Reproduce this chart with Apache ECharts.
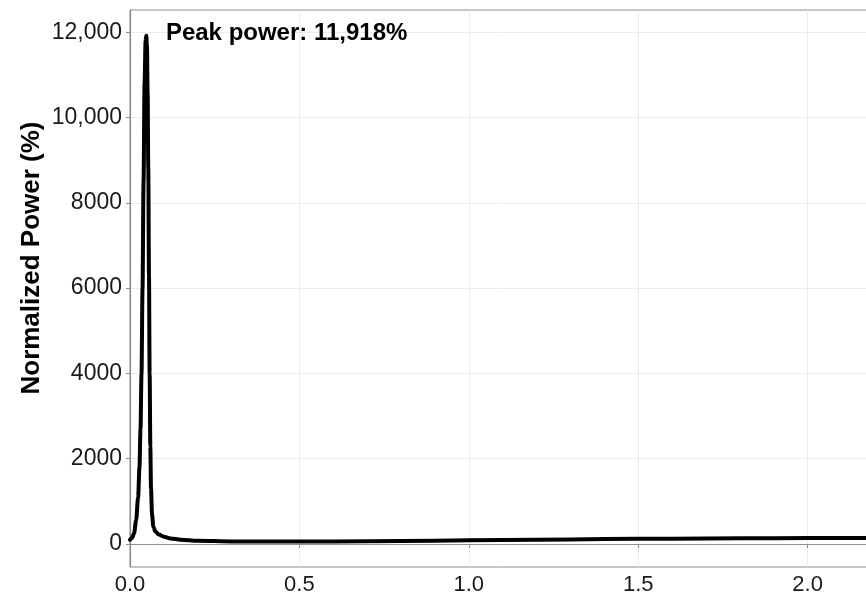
<!DOCTYPE html>
<html>
  <head>
    <meta charset="utf-8">
    <title>Normalized Power</title>
    <script src="https://cdn.jsdelivr.net/npm/echarts@6/dist/echarts.min.js"></script>
    <style>
      html, body { margin: 0; padding: 0; background: #fff; }
      #chart { width: 866px; height: 594px; }
    </style>
  </head>
  <body>
    <div id="chart"></div>
    <script>
      // frequency (x) and normalized power in % (y)
      const freqs = [0, 0.006, 0.012, 0.018, 0.024, 0.028, 0.031, 0.034, 0.037, 0.040,
        0.043, 0.046, 0.048, 0.050, 0.052, 0.054, 0.056, 0.058, 0.060, 0.062,
        0.065, 0.069, 0.075, 0.085, 0.10, 0.12, 0.15, 0.20, 0.30, 0.40,
        0.50, 0.60, 0.80, 1.00, 1.20, 1.40, 1.60, 1.80, 2.00, 2.20, 2.40, 2.60];
      const power = [100, 140, 250, 550, 1100, 1800, 2700, 4000, 6000, 8500,
        10800, 11800, 11918, 11700, 10600, 8800, 6300, 4000, 2300, 1300,
        700, 400, 290, 220, 170, 130, 100, 75, 60, 55,
        55, 58, 70, 85, 100, 115, 125, 132, 138, 140, 142, 143];
      const yTicks = [0, 2000, 4000, 6000, 8000, 10000, 12000];
      const peakValue = 11918;
      const peakText = 'Peak power: ' + peakValue.toLocaleString('en-US') + '%';

      const font = '"Liberation Sans", Arial, sans-serif';
      const chart = echarts.init(document.getElementById('chart'));

      // the plot runs past the right edge of the picture, as in the original
      chart.setOption({
        animation: false,
        grid: {
          left: 130, top: 10, width: 847, bottom: 27,
          outerBoundsMode: 'none', containLabel: false,
          show: true, borderColor: '#8c8c8c', borderWidth: 1
        },
        xAxis: {
          type: 'value', min: 0, max: 2.5, interval: 0.5,
          axisLine: { lineStyle: { color: '#8c8c8c', width: 1.2 } },
          axisTick: { show: true, length: 4, lineStyle: { color: '#8c8c8c' } },
          axisLabel: {
            margin: 7, fontSize: 22, color: '#1a1a1a', fontFamily: font,
            formatter: v => v.toFixed(1)
          },
          splitLine: { show: true, lineStyle: { color: '#ececec', width: 1 } }
        },
        yAxis: {
          type: 'value', min: -540, max: 12520,
          axisLine: { show: true, lineStyle: { color: '#8c8c8c', width: 1.2 } },
          axisTick: { show: true, length: 4, customValues: yTicks, lineStyle: { color: '#8c8c8c' } },
          axisLabel: {
            margin: 8, fontSize: 23, color: '#1a1a1a', fontFamily: font,
            customValues: yTicks,
            formatter: v => v >= 10000 ? v.toLocaleString('en-US') : String(v)
          },
          splitLine: { show: true, lineStyle: { color: '#ececec', width: 1 } }
        },
        series: [{
          type: 'line',
          data: freqs.map((f, i) => [f, power[i]]),
          showSymbol: false,
          smooth: 0.3,
          smoothMonotone: 'x',
          lineStyle: { color: '#000', width: 4, cap: 'round', join: 'round' }
        }]
      });

      const p = chart.convertToPixel({ gridIndex: 0 }, [0.106, 12000]);
      chart.setOption({
        graphic: [
          {
            type: 'text', x: p[0], y: p[1] + 1,
            style: {
              text: peakText, fontSize: 24, fontWeight: 'bold', fontFamily: font,
              fill: '#000', textVerticalAlign: 'middle'
            }
          },
          {
            type: 'text', x: 32, y: 258, rotation: Math.PI / 2,
            style: {
              text: 'Normalized Power (%)', fontSize: 26, fontWeight: 'bold', fontFamily: font,
              fill: '#000', textAlign: 'center', textVerticalAlign: 'middle'
            }
          }
        ]
      });
    </script>
  </body>
</html>
